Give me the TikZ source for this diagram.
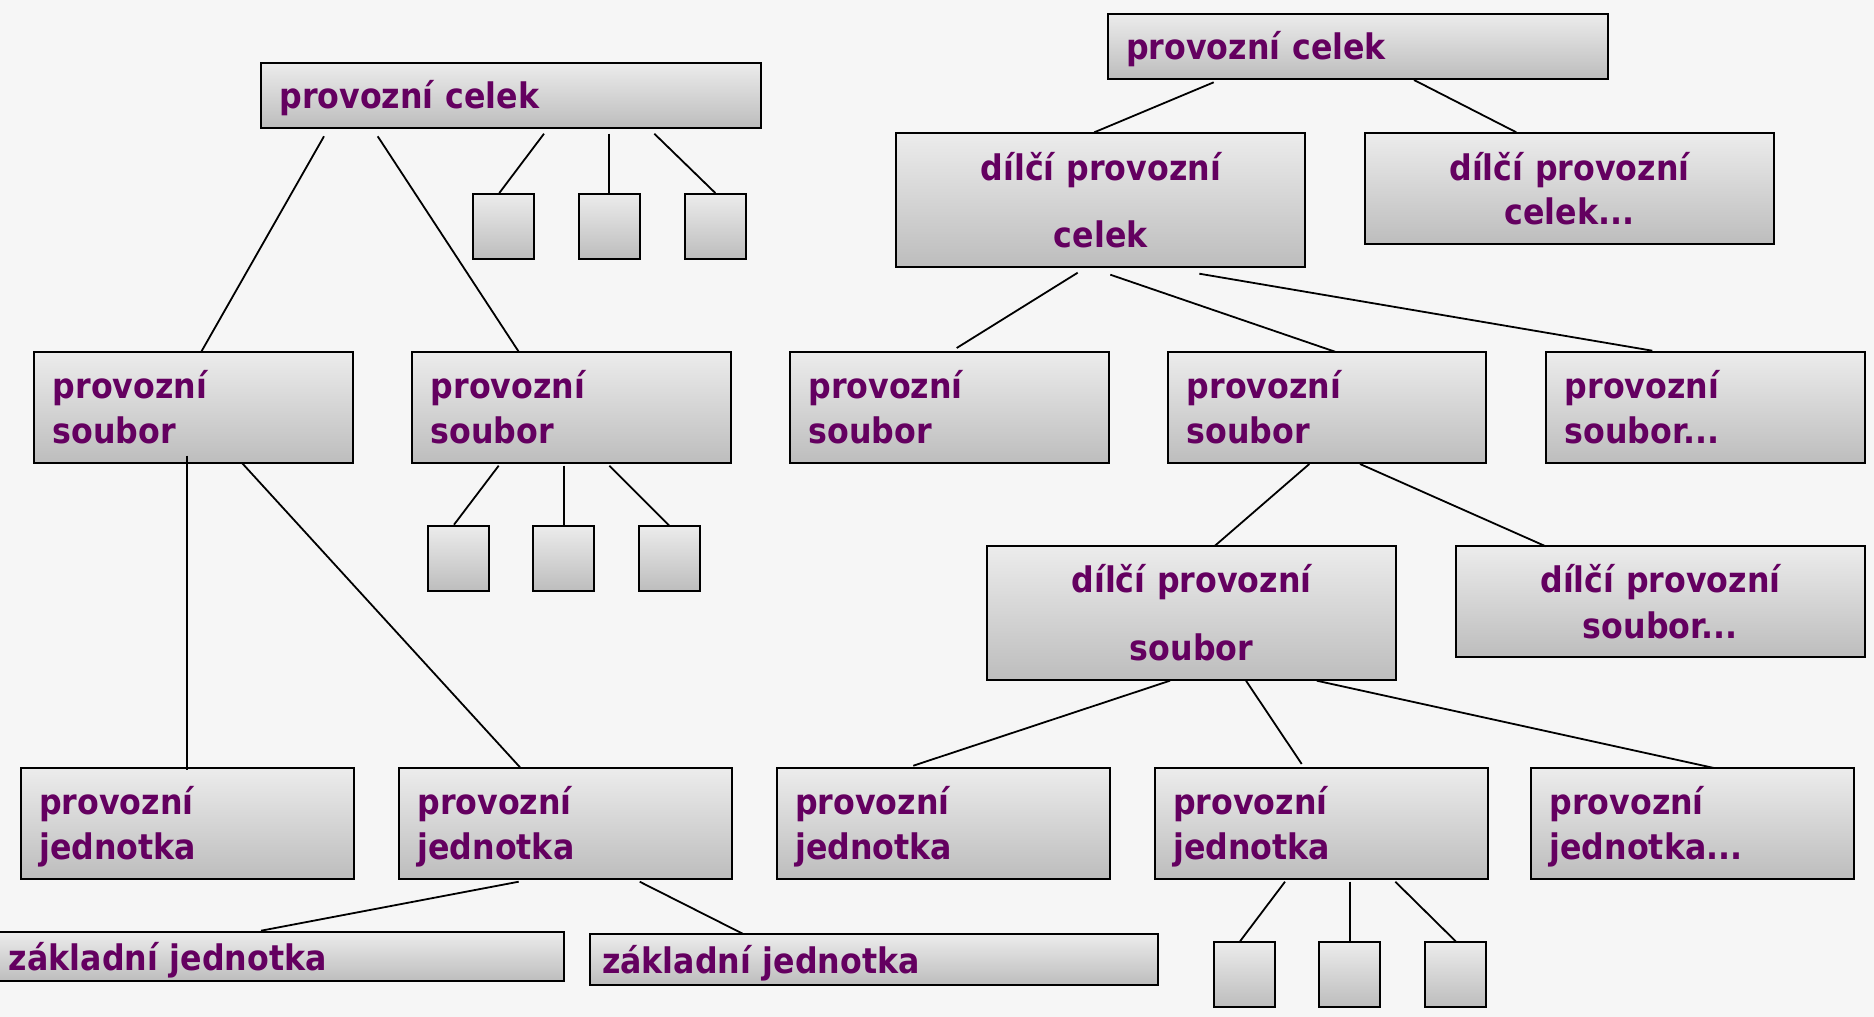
\documentclass[tikz,border=0pt]{standalone}
\usepackage{fontspec}
\newfontfamily\lbl{DejaVu Sans}[FakeStretch=0.9]
\usetikzlibrary{calc}
\definecolor{bg}{RGB}{246,246,246}
\definecolor{btop}{RGB}{236,236,236}
\definecolor{bbot}{RGB}{189,189,189}
\definecolor{txt}{RGB}{100,0,96}
\newcommand\st{\rule[-8pt]{0pt}{43.4pt}}
\newcommand\conn[6]{\draw[ln] ($(#1.south west)+(#2,#3)$) -- ($(#4.north west)+(#5,#6)$);}
\begin{document}
\begin{tikzpicture}[x=1pt,y=-1pt,
  box/.style={draw=black,line width=2pt,top color=btop,bottom color=bbot,anchor=north west,
    outer sep=0pt,inner xsep=18.5pt,inner ysep=0pt,text=txt,
    font=\lbl\bfseries\fontsize{35.2}{45}\selectfont,align=left},
  cbox/.style={box,align=center},
  sq/.style={box,minimum width=61pt,minimum height=65pt,inner xsep=0pt},
  ln/.style={line width=1.8pt}]
\fill[bg] (0,0) rectangle (1874,1017);
\useasboundingbox (0,0) rectangle (1874,1017);

% left tree
\node[box,minimum width=500pt,minimum height=65pt,text width=463pt] (pc1) at (261,62.7) {\st provozní celek};
\node[sq] (sqA1) at (472.7,193.7) {};
\node[sq] (sqA2) at (578.7,193.7) {};
\node[sq] (sqA3) at (684.7,193.7) {};
\node[box,minimum width=318.4pt,minimum height=110.7pt,text width=281.4pt] (ps1) at (34.3,352.3) {\st provozní\\\st soubor};
\node[box,minimum width=318.4pt,minimum height=110.7pt,text width=281.4pt] (ps2) at (412.3,352.3) {\st provozní\\\st soubor};
\node[sq] (sqB1) at (427.7,525.7) {};
\node[sq] (sqB2) at (533.3,525.7) {};
\node[sq] (sqB3) at (639.3,525.7) {};
\node[box,minimum width=333.3pt,minimum height=110.4pt,text width=296.3pt] (pj1) at (20.7,768.3) {\st provozní\\\st jednotka};
\node[box,minimum width=333pt,minimum height=110.4pt,text width=296pt] (pj2) at (399,768.3) {\st provozní\\\st jednotka};
\node[box,inner xsep=12pt,minimum width=567.3pt,minimum height=49.3pt,text width=543.3pt] (zj1) at (-3,932) {\st základní jednotka};
\node[box,inner xsep=12pt,minimum width=568pt,minimum height=50.4pt,text width=544pt] (zj2) at (590,934.3) {\st základní jednotka};

% right tree
\node[box,minimum width=500pt,minimum height=65pt,text width=463pt] (pc2) at (1107.7,13.7) {\st provozní celek};
\node[cbox,minimum width=409pt,minimum height=133.7pt,text width=372pt,font=\lbl\bfseries\fontsize{35.2}{67}\selectfont] (dpc) at (896.3,133) {\st dílčí provozní\\\st celek};
\node[cbox,minimum width=408.7pt,minimum height=110.4pt,text width=371.7pt,font=\lbl\bfseries\fontsize{35.2}{44}\selectfont] (dpc2) at (1365,133.3) {\st dílčí provozní\\\st celek...};
\node[box,minimum width=318.7pt,minimum height=110.7pt,text width=281.7pt] (ps3) at (790,352.3) {\st provozní\\\st soubor};
\node[box,minimum width=317.7pt,minimum height=110.7pt,text width=280.7pt] (ps4) at (1168.3,352.3) {\st provozní\\\st soubor};
\node[box,minimum width=318.7pt,minimum height=110.7pt,text width=281.7pt] (ps5) at (1546.3,352.3) {\st provozní\\\st soubor...};
\node[cbox,minimum width=409pt,minimum height=133.4pt,text width=372pt,font=\lbl\bfseries\fontsize{35.2}{68}\selectfont] (dps) at (987,546.3) {\st dílčí provozní\\\st soubor};
\node[cbox,minimum width=409.3pt,minimum height=110.4pt,text width=372.3pt,font=\lbl\bfseries\fontsize{35.2}{46}\selectfont] (dps2) at (1455.7,546.3) {\st dílčí provozní\\\st soubor...};
\node[box,minimum width=333.3pt,minimum height=110.4pt,text width=296.3pt] (pj3) at (776.7,768.3) {\st provozní\\\st jednotka};
\node[box,minimum width=333.3pt,minimum height=110.4pt,text width=296.3pt] (pj4) at (1154.7,768.3) {\st provozní\\\st jednotka};
\node[box,minimum width=323.3pt,minimum height=110.4pt,text width=286.3pt] (pj5) at (1531,768.3) {\st provozní\\\st jednotka...};
\node[sq] (sqC1) at (1213.7,942) {};
\node[sq] (sqC2) at (1319.3,942) {};
\node[sq] (sqC3) at (1425,942) {};

% connectors, left tree
\conn{pc1}{63}{8.6}{ps1}{167}{-0.6}
\conn{pc1}{116.7}{8.6}{ps2}{106.4}{-0.6}
\conn{pc1}{283}{6}{sqA1}{26.6}{-0.7}
\conn{pc1}{348.3}{6}{sqA2}{30.6}{-0.7}
\conn{pc1}{393.3}{6}{sqA3}{30.6}{-0.7}
\conn{ps1}{153}{-7.3}{pj1}{166.6}{2}
\conn{ps1}{207.7}{0}{pj2}{121}{-1}
\conn{ps2}{86.4}{2.7}{sqB1}{26.3}{-1}
\conn{ps2}{151.7}{2.7}{sqB2}{30.7}{0}
\conn{ps2}{197}{2.7}{sqB3}{30}{0}
\conn{pj2}{119.7}{3}{zj1}{264}{-1.3}
\conn{pj2}{240.7}{3}{zj2}{152.7}{-0.6}
% connectors, right tree
\conn{pc2}{106}{3.6}{dpc}{198}{-0.7}
\conn{pc2}{306.3}{1.3}{dpc2}{151.3}{-1}
\conn{dpc}{181.4}{6}{ps3}{166.7}{-4.3}
\conn{dpc}{214}{8}{ps4}{166.7}{-0.6}
\conn{dpc}{303}{7}{ps5}{106}{-1.6}
\conn{ps4}{141}{1}{dps}{228}{-0.6}
\conn{ps4}{191.7}{1}{dps2}{90}{0}
\conn{dps}{183}{1}{pj3}{136.6}{-2.6}
\conn{dps}{259}{1}{pj4}{147}{-4.3}
\conn{dps}{329.7}{1}{pj5}{183}{-0.3}
\conn{pj4}{130.3}{3}{sqC1}{26.3}{-0.7}
\conn{pj4}{195.3}{3}{sqC2}{30.7}{-0.7}
\conn{pj4}{240.6}{3}{sqC3}{30.7}{-0.7}
\end{tikzpicture}
\end{document}
